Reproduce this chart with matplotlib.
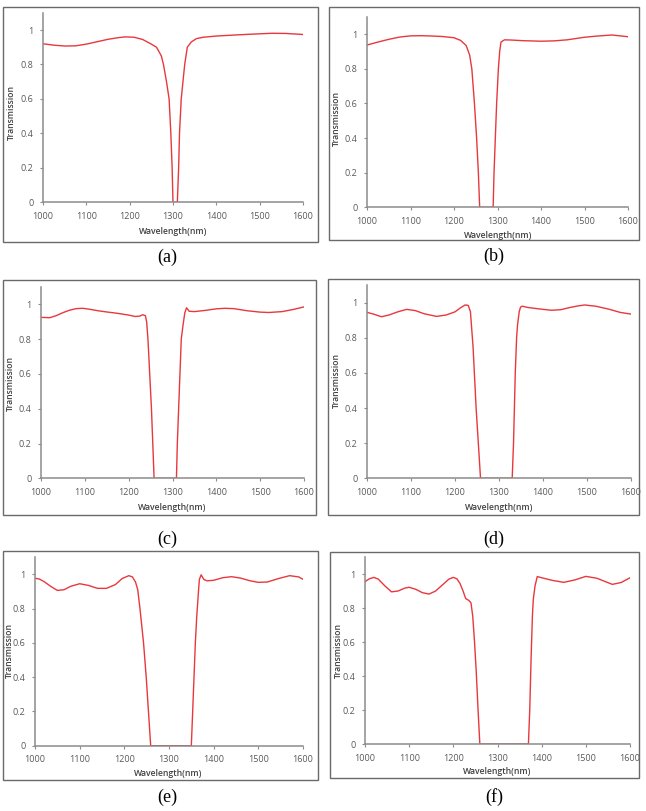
import matplotlib
matplotlib.use("Agg")
import matplotlib.pyplot as plt
from matplotlib.patches import Rectangle

# ---------------- data ----------------
wl_a = [1000, 1025, 1050, 1075, 1100, 1125, 1150, 1175, 1190, 1210, 1230, 1250, 1262, 1273, 1278,
        1285, 1291, 1295, 1298, 1300, 1310, 1313, 1315, 1319, 1323, 1327, 1333, 1342, 1354, 1370,
        1400, 1450, 1500, 1530, 1560, 1600]
tr_a = [0.92, 0.912, 0.907, 0.908, 0.918, 0.932, 0.946, 0.956, 0.96, 0.958, 0.945, 0.918, 0.9, 0.85, 0.8,
        0.7, 0.6, 0.4, 0.2, 0.0, 0.0, 0.2, 0.4, 0.6, 0.7, 0.8, 0.9, 0.93, 0.95, 0.958,
        0.965, 0.972, 0.978, 0.981, 0.98, 0.974]

wl_b = [1000, 1025, 1050, 1075, 1100, 1125, 1150, 1175, 1200, 1215, 1228, 1236, 1241, 1247, 1252,
        1256, 1259, 1278, 1290, 1292, 1295, 1298, 1302, 1305, 1308, 1316, 1330, 1360, 1400, 1430,
        1460, 1500, 1530, 1563, 1600]
tr_b = [0.938, 0.955, 0.971, 0.984, 0.991, 0.992, 0.99, 0.987, 0.98, 0.965, 0.935, 0.88, 0.8, 0.6, 0.4,
        0.2, 0.0, 0.0, 0.0, 0.2, 0.4, 0.6, 0.8, 0.9, 0.955, 0.968, 0.967, 0.963, 0.96, 0.962,
        0.968, 0.983, 0.99, 0.996, 0.986]

wl_c = [1000, 1020, 1035, 1050, 1065, 1080, 1095, 1110, 1130, 1150, 1175, 1200, 1215, 1225, 1232,
        1238, 1241, 1244, 1248, 1252, 1255, 1258, 1309, 1311, 1314, 1317, 1320, 1324, 1328, 1332,
        1338, 1350, 1375, 1400, 1420, 1440, 1470, 1500, 1520, 1550, 1575, 1600]
tr_c = [0.925, 0.923, 0.935, 0.952, 0.966, 0.975, 0.977, 0.972, 0.963, 0.956, 0.948, 0.938, 0.93, 0.932, 0.94,
        0.935, 0.9, 0.8, 0.6, 0.4, 0.2, 0.0, 0.0, 0.2, 0.4, 0.6, 0.8, 0.88, 0.95, 0.98,
        0.96, 0.958, 0.965, 0.974, 0.977, 0.975, 0.963, 0.955, 0.953, 0.958, 0.97, 0.985]

wl_d = [1000, 1015, 1033, 1050, 1070, 1090, 1110, 1130, 1158, 1180, 1200, 1212, 1223, 1230, 1235,
        1238, 1241, 1244, 1248, 1253, 1258, 1330, 1333, 1335, 1337, 1340, 1342, 1346, 1349, 1353,
        1365, 1390, 1419, 1440, 1460, 1480, 1495, 1520, 1550, 1575, 1600]
tr_d = [0.945, 0.935, 0.92, 0.93, 0.948, 0.962, 0.955, 0.937, 0.922, 0.93, 0.948, 0.97, 0.987, 0.985, 0.95,
        0.85, 0.75, 0.6, 0.4, 0.2, 0.0, 0.0, 0.2, 0.4, 0.6, 0.8, 0.87, 0.95, 0.975, 0.98,
        0.973, 0.965, 0.957, 0.96, 0.972, 0.982, 0.987, 0.98, 0.963, 0.945, 0.935]

wl_e = [1000, 1010, 1020, 1035, 1050, 1065, 1080, 1100, 1120, 1140, 1160, 1180, 1195, 1210, 1218,
        1225, 1230, 1235, 1243, 1249, 1254, 1259, 1350, 1353, 1356, 1359, 1362, 1366, 1368, 1372,
        1378, 1385, 1400, 1420, 1440, 1460, 1480, 1500, 1520, 1545, 1570, 1590, 1600]
tr_e = [0.977, 0.972, 0.958, 0.93, 0.906, 0.91, 0.93, 0.945, 0.935, 0.918, 0.918, 0.94, 0.975, 0.992, 0.985,
        0.955, 0.91, 0.8, 0.6, 0.4, 0.2, 0.0, 0.0, 0.2, 0.4, 0.6, 0.75, 0.9, 0.97, 0.997,
        0.97, 0.962, 0.965, 0.98, 0.986, 0.978, 0.963, 0.953, 0.955, 0.975, 0.992, 0.985, 0.971]

wl_f = [1000, 1010, 1020, 1030, 1045, 1060, 1075, 1090, 1100, 1115, 1130, 1145, 1160, 1175, 1190,
        1200, 1208, 1215, 1222, 1228, 1235, 1240, 1244, 1248, 1252, 1256, 1260, 1370, 1373, 1376,
        1379, 1381, 1385, 1390, 1400, 1425, 1450, 1475, 1500, 1525, 1560, 1580, 1600]
tr_f = [0.955, 0.972, 0.98, 0.97, 0.93, 0.895, 0.9, 0.917, 0.922, 0.91, 0.89, 0.882, 0.9, 0.935, 0.97,
        0.98, 0.972, 0.945, 0.9, 0.855, 0.845, 0.83, 0.75, 0.6, 0.42, 0.2, 0.0, 0.0, 0.2, 0.5,
        0.75, 0.85, 0.93, 0.985, 0.978, 0.962, 0.951, 0.965, 0.986, 0.975, 0.939, 0.95, 0.978]

captions = ["(a)", "(b)", "(c)", "(d)", "(e)", "(f)"]
series = [(wl_a, tr_a), (wl_b, tr_b), (wl_c, tr_c), (wl_d, tr_d), (wl_e, tr_e), (wl_f, tr_f)]
x_ticks = [1000, 1100, 1200, 1300, 1400, 1500, 1600]
y_ticks = [0, 0.2, 0.4, 0.6, 0.8, 1]
y_tick_labels = ["0", "0.2", "0.4", "0.6", "0.8", "1"]
x_label = "Wavelength(nm)"
y_label = "Transmission"

# ---------------- layout (pixels) ----------------
W, H = 646, 811
# x(1000), x(1600), y(0), y(1)
axes_px = [(43, 303, 202.3, 30.0), (367, 628, 207.3, 34.3),
           (41, 304, 478.3, 304.3), (367, 631, 478.3, 302.7),
           (35, 303, 745.7, 574.3), (365, 630, 744.0, 574.0)]
# box: x0, x1, y0, y1
box_px = [(3, 318, 7, 242), (329, 639, 7, 240),
          (3, 316, 280, 515), (328, 639, 279, 515),
          (3, 318, 551, 780), (330, 639, 552, 778)]
ylab_px = [(11, 113), (336, 118), (10, 383), (336, 380), (9, 650), (338, 651)]
xlab_px = [(173, 231), (498, 235), (172, 507), (499, 508), (168, 774), (497, 772)]
cap_px = [(167, 257), (494, 256), (167, 539), (494, 539), (167, 797), (494, 797)]

fig = plt.figure(figsize=(W / 100, H / 100), dpi=100)
fig.patch.set_facecolor("white")

line_color = "#e8383d"
spine_color = "#8c8c8c"
tick_color = "#595959"
label_color = "#404040"
font = "Open Sans"

for i, (wl, tr) in enumerate(series):
    x0, x1, yb, y1 = axes_px[i]
    unit = yb - y1
    ax = fig.add_axes([x0 / W, 1 - yb / H, (x1 - x0) / W, 1.1 * unit / H])
    ax.plot(wl, tr, color=line_color, lw=1.0, solid_joinstyle="round", zorder=1)
    ax.set_xlim(1000, 1600)
    ax.set_ylim(0, 1.1)
    ax.set_xticks(x_ticks)
    ax.set_xticklabels([str(t) for t in x_ticks])
    ax.set_yticks(y_ticks)
    ax.set_yticklabels(y_tick_labels)
    for s in ["top", "right"]:
        ax.spines[s].set_visible(False)
    for s in ["left", "bottom"]:
        ax.spines[s].set_color(spine_color)
        ax.spines[s].set_linewidth(1.1)
    ax.tick_params(axis="both", direction="out", length=2.5, width=0.8, color=spine_color,
                   labelsize=6.5, labelcolor=tick_color, pad=4.5)
    for lab in ax.get_xticklabels() + ax.get_yticklabels():
        lab.set_fontfamily(font)
    ax.set_facecolor("none")

    bx0, bx1, by0, by1 = box_px[i]
    fig.patches.append(Rectangle((bx0 / W, 1 - by1 / H), (bx1 - bx0) / W, (by1 - by0) / H,
                                 transform=fig.transFigure, fill=False,
                                 edgecolor="#6a6a6a", lw=1.0))
    lx, ly = ylab_px[i]
    fig.text(lx / W, 1 - ly / H, y_label, rotation=90, ha="center", va="center",
             fontsize=6.2, fontweight="semibold", color=label_color, family=font)
    lx, ly = xlab_px[i]
    fig.text(lx / W, 1 - ly / H, x_label, ha="center", va="center",
             fontsize=6.2, fontweight="semibold", color=label_color, family=font)
    cx, cy = cap_px[i]
    fig.text(cx / W, 1 - cy / H, captions[i], ha="center", va="center",
             fontsize=13, color="black", family="Liberation Serif")

fig.savefig("out.png", dpi=100, facecolor="white")
